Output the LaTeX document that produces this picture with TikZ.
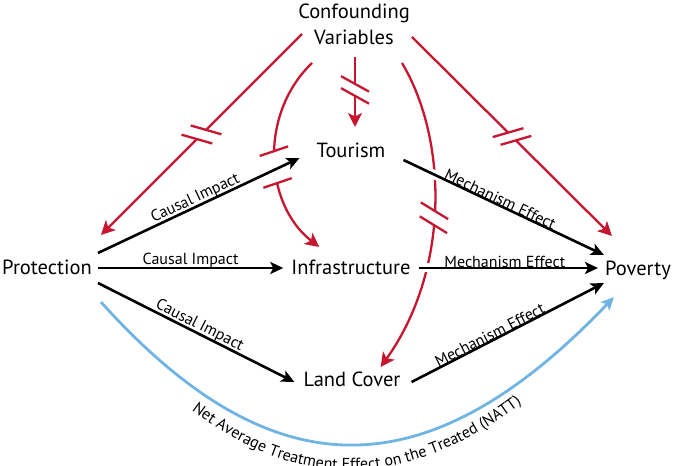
\documentclass[tikz,border=0pt]{standalone}
\usepackage{fontspec}
\setmainfont{PT Sans}
\usetikzlibrary{arrows.meta,calc,decorations.markings,decorations.text}
\definecolor{cfred}{RGB}{198,22,48}
\definecolor{nattblue}{RGB}{112,180,228}
\newcommand{\bigfont}{\fontsize{20.5}{26}\selectfont}
\newcommand{\lblfont}{\fontsize{16}{19}\selectfont}
\begin{document}
\begin{tikzpicture}[x=1pt,y=1pt,
  var/.style={font=\bigfont, inner sep=0pt},
  causal/.style={line width=2.6pt, -{Stealth[length=13pt,width=12pt,inset=3pt]}},
  cfline/.style={cfred, line width=2.3pt, -{Stealth[length=14pt,width=14pt,inset=3.5pt]}},
  natt/.style={nattblue, line width=2.8pt, -{Stealth[length=13pt,width=12pt,inset=3pt]}},
  lbl/.style={font=\lblfont, inner sep=0pt, sloped, above=-1pt},
  halo/.style={white, line width=9pt},
  brk/.style n args={4}{postaction={decorate,decoration={markings,mark=at position #1 with {
     \draw[white,line width=5pt,arrows=-] (-#2,0)--(#2,0);
     \draw[cfred,line width=2.3pt,arrows=-] (-#2,0) ++(#3:-#4) -- ++(#3:#4) -- ++(#3:#4);
     \draw[cfred,line width=2.3pt,arrows=-] (#2,0) ++(#3:-#4) -- ++(#3:#4) -- ++(#3:#4);
  }}}}
]
\useasboundingbox (0,0) rectangle (673,466);

% variables
\node[var, anchor=center, align=center] (conf) at (354,442) {Confounding\\Variables};
\node[var, anchor=base] (tour) at (351,308) {Tourism};
\node[var, anchor=base] (prot) at (47,191) {Protection};
\node[var, anchor=base] (infra) at (351,191) {Infrastructure};
\node[var, anchor=base] (pov) at (638,190) {Poverty};
\node[var, anchor=base] (land) at (352,79) {Land Cover};

% confounding links
\draw[cfline, brk={0.5}{6.5}{119}{16}] ($(conf.center)+(-52,-10)$) -- ($(prot.base east)+(9,40)$);
\draw[cfline, brk={0.55}{16}{102}{15}] ($(conf.center)+(-42,-39)$) .. controls (258,351) and (265,261) .. ($(infra.base west)+(28,28)$);
\draw[cfline, brk={0.47}{6}{61}{16}] ($(conf.center)+(1,-33)$) -- ($(tour.base)+(4,31)$);
\draw[cfline, brk={0.5}{7}{63}{16}] ($(conf.center)+(48,-39)$) .. controls (448,326) and (450,196) .. ($(land.base east)+(-20,20)$);
\draw[cfline, brk={0.5}{5.5}{61}{16}] ($(conf.center)+(58,-13)$) -- ($(pov.base west)+(7,40)$);

% halos where black arrows cross the red curve
\draw[halo, shorten >=60pt, shorten <=4pt] ($(tour.base east)+(18,-2)$) -- ($(pov.base west)+(-1,21)$);
\draw[halo, shorten >=100pt, shorten <=2pt] ($(infra.base east)+(8,7)$) -- ($(pov.base west)+(-7,8)$);

% causal impacts
\draw[causal] ($(prot.base east)+(6,22)$) -- node[lbl]{Causal Impact} ($(tour.base west)+(-17,0)$);
\draw[causal] ($(prot.base east)+(6,7)$) -- node[lbl]{Causal Impact} ($(infra.base west)+(-8,7)$);
\draw[causal] ($(prot.base east)+(6,-8)$) -- node[lbl]{Causal Impact} ($(land.base west)+(-9,5)$);

% mechanism effects
\draw[causal] ($(tour.base east)+(18,-2)$) -- node[lbl,pos=0.47]{Mechanism Effect} ($(pov.base west)+(-1,21)$);
\draw[causal] ($(infra.base east)+(8,7)$) -- node[lbl,pos=0.48]{Mechanism Effect} ($(pov.base west)+(-7,8)$);
\draw[causal] ($(land.base east)+(11,5)$) -- node[lbl,pos=0.42]{Mechanism Effect} ($(pov.base west)+(-1,-7)$);

% NATT
\draw[natt] ($(prot.base east)+(9,-27)$) .. controls (270,-24) and (425,-29) .. ($(pov.base west)+(9,-21)$);
\path[decorate, decoration={text along path, text={|\lblfont|Net Average Treatment Effect on the Treated (NATT)}, text align=center}]
  (89.3,155.7) .. controls (265.3,-55.5) and (428.7,-60.5) .. (625.8,161);
\end{tikzpicture}
\end{document}
